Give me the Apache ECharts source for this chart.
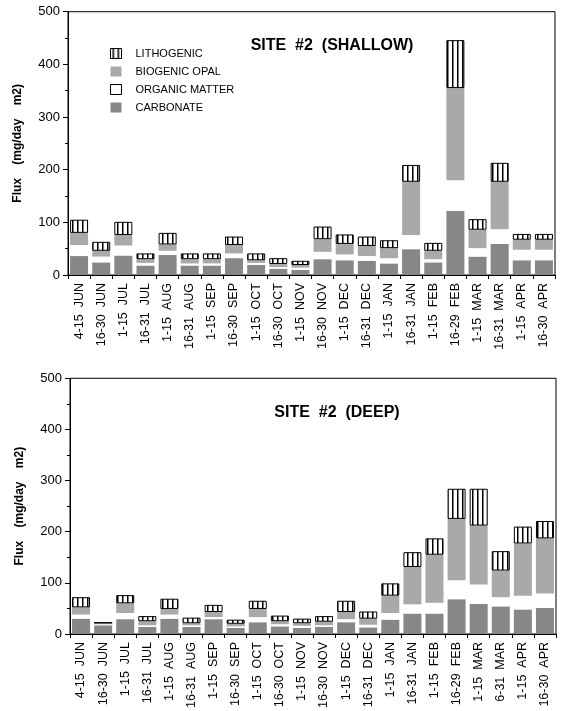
<!DOCTYPE html>
<html>
<head>
<meta charset="utf-8">
<script src="https://cdn.jsdelivr.net/npm/echarts@6/dist/echarts.min.js"></script>
<style>
html,body{margin:0;padding:0;background:#fff;}
#chart{width:562px;height:711px;}
</style>
</head>
<body>
<div id="chart"></div>
<script>
// ---- Data ----
const categoriesShallow = ['4-15  JUN','16-30  JUN','1-15  JUL','16-31  JUL','1-15  AUG','16-31  AUG','1-15  SEP','16-30  SEP','1-15  OCT','16-30  OCT','1-15  NOV','16-30  NOV','1-15  DEC','16-31  DEC','1-15  JAN','16-31  JAN','1-15  FEB','16-29  FEB','1-15  MAR','16-31  MAR','1-15  APR','16-30  APR'];
const categoriesDeep = ['4-15  JUN','16-30  JUN','1-15  JUL','16-31  JUL','1-15  AUG','16-31  AUG','1-15  SEP','16-30  SEP','1-15  OCT','16-30  OCT','1-15  NOV','16-30  NOV','1-15  DEC','16-31  DEC','1-15  JAN','16-31  JAN','1-15  FEB','16-29  FEB','1-15  MAR','6-31  MAR','1-15  APR','16-30  APR'];

const shallowCarbonate = [36,24,37,18,38,18,18,32,19,12,10,30,28,27,22,49,24,122,35,59,28,28];
const shallowOrganic   = [21,11,19,5,8,4,4,9,4,3,4,14,11,9,10,27,6,58,16,28,20,20];
const shallowOpal      = [23,11,20,7,12,8,8,16,5,6,5,24,20,19,19,101,16,175,35,90,19,19];
const shallowLitho     = [25,17,25,11,22,11,11,16,13,11,8,24,18,18,15,32,15,91,20,36,11,11];

const deepCarbonate = [30,17,29,14,30,14,29,12,23,15,12,14,23,13,28,40,40,68,59,54,48,51];
const deepOrganic   = [8,2,12,3,8,3,4,3,10,4,4,3,6,5,13,18,21,37,38,18,27,28];
const deepOpal      = [14,3,19,8,11,4,10,5,16,6,5,7,14,12,34,73,94,120,115,52,102,108];
const deepLitho     = [20,0,16,10,20,11,14,8,16,11,9,11,22,14,24,29,32,59,72,38,33,34];

const yTicks = [0,100,200,300,400,500];
const seriesNames = ['LITHOGENIC','BIOGENIC OPAL','ORGANIC MATTER','CARBONATE'];
const titles = ['SITE  #2  (SHALLOW)','SITE  #2  (DEEP)'];
const yName = 'Flux    (mg/day    m2)';

// ---- Styles ----
function stripeCanvas(){
  const c = document.createElement('canvas');
  c.width = 5; c.height = 5;
  const g = c.getContext('2d');
  g.fillStyle = '#fff'; g.fillRect(0,0,5,5);
  g.fillStyle = '#000'; g.fillRect(2,0,1.5,5);
  return c;
}
const stripePattern = {image: stripeCanvas(), repeat: 'repeat'};
const colCarb = '#878787';
const colOpal = '#a9a9a9';
const colOM = '#ffffff';
const FONT = 'Liberation Sans, Arial, Helvetica, sans-serif';

const grids = [
  {left: 68, right: 7, top: 11.7, height: 263.3, show: true, borderColor: '#000', borderWidth: 1},
  {left: 70, right: 6, top: 378.3, height: 264.4, show: true, borderColor: '#000', borderWidth: 1}
];

function xAxis(idx, cats){
  return {
    type: 'category', gridIndex: idx, data: cats,
    axisLine: {lineStyle: {color: '#000', width: 1}},
    axisTick: {show: true, length: 4, lineStyle: {color: '#000'}},
    axisLabel: {interval: 0, rotate: 90, margin: 8, color: '#000', fontFamily: FONT, fontSize: 12.5}
  };
}
function yAxis(idx){
  return {
    type: 'value', gridIndex: idx, min: yTicks[0], max: yTicks[yTicks.length-1], interval: 100,
    name: yName, nameLocation: 'middle', nameRotate: 90, nameGap: 44,
    nameTextStyle: {fontFamily: FONT, fontWeight: 'bold', fontSize: 12, color: '#000'},
    axisLine: {show: true, lineStyle: {color: '#000', width: 1}},
    axisTick: {show: true, length: 5, lineStyle: {color: '#000'}},
    minorTick: {show: true, splitNumber: 2, length: 3, lineStyle: {color: '#000'}},
    splitLine: {show: false},
    axisLabel: {color: '#000', fontFamily: FONT, fontSize: 13, margin: 8}
  };
}

function bars(idx, name, data, color, border){
  return {
    type: 'bar', name: name, xAxisIndex: idx, yAxisIndex: idx, stack: 'p' + idx,
    data: data, barWidth: 18,
    itemStyle: {color: color, borderColor: border ? '#000' : 'transparent', borderWidth: border ? 1 : 0},
    emphasis: {disabled: true}
  };
}

const option = {
  animation: false,
  backgroundColor: '#fff',
  title: [
    {text: titles[0], left: 327, top: 33, textAlign: 'center',
     textStyle: {fontFamily: FONT, fontWeight: 'bold', fontSize: 16, color: '#000'}},
    {text: titles[1], left: 332, top: 400, textAlign: 'center',
     textStyle: {fontFamily: FONT, fontWeight: 'bold', fontSize: 16, color: '#000'}}
  ],
  legend: {
    orient: 'vertical', left: 105, top: 43, itemWidth: 11, itemHeight: 10, itemGap: 7,
    icon: 'rect', selectedMode: false,
    textStyle: {fontFamily: FONT, fontSize: 11, color: '#000', padding: [0,0,0,9]},
    data: [
      {name: seriesNames[0], itemStyle: {borderColor: '#000', borderWidth: 1}},
      {name: seriesNames[1], itemStyle: {borderWidth: 0}},
      {name: seriesNames[2], itemStyle: {borderColor: '#000', borderWidth: 1}},
      {name: seriesNames[3], itemStyle: {borderWidth: 0}}
    ]
  },
  grid: grids,
  xAxis: [xAxis(0, categoriesShallow), xAxis(1, categoriesDeep)],
  yAxis: [yAxis(0), yAxis(1)],
  series: [
    bars(0, seriesNames[3], shallowCarbonate, colCarb, false),
    bars(0, seriesNames[2], shallowOrganic, colOM, false),
    bars(0, seriesNames[1], shallowOpal, colOpal, false),
    bars(0, seriesNames[0], shallowLitho, stripePattern, true),
    bars(1, seriesNames[3], deepCarbonate, colCarb, false),
    bars(1, seriesNames[2], deepOrganic, colOM, false),
    bars(1, seriesNames[1], deepOpal, colOpal, false),
    bars(1, seriesNames[0], deepLitho, stripePattern, true)
  ]
};

const chart = echarts.init(document.getElementById('chart'), null, {renderer: 'canvas'});
chart.setOption(option);
</script>
</body>
</html>
